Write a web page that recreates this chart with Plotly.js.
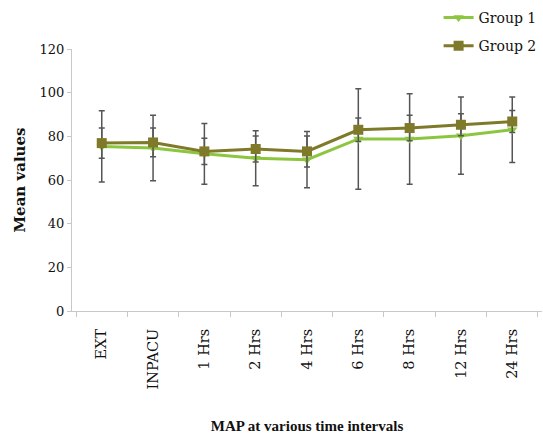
<!DOCTYPE html>
<html>
<head>
<meta charset="utf-8">
<script src="https://cdn.plot.ly/plotly-3.0.1.min.js"></script>
<style>html,body{margin:0;padding:0;background:#fff;}#chart{width:543px;height:434px;}</style>
</head>
<body>
<div id="chart"></div>
<script>
const categories = ["EXT", "INPACU", "1 Hrs", "2 Hrs", "4 Hrs", "6 Hrs", "8 Hrs", "12 Hrs", "24 Hrs"];
const group1Mean = [75.4, 74.6, 72.0, 70.0, 69.3, 78.8, 78.8, 80.3, 83.0];
const group1SD   = [16.3, 15.0, 13.9, 12.6, 12.9, 23.0, 20.7, 17.7, 15.0];
const group2Mean = [76.9, 77.2, 73.1, 74.2, 73.1, 83.0, 83.8, 85.3, 86.8];
const group2SD   = [6.9, 6.6, 6.0, 6.0, 7.1, 5.4, 5.8, 5.0, 5.0];
const yTicks = [0, 20, 40, 60, 80, 100, 120];

const serif = "DejaVu Serif, Liberation Serif, serif";
const times = "Liberation Serif, serif";

const traces = [
  {
    x: categories, y: group1Mean, name: "Group 1", legendgroup: "g1", type: "scatter", mode: "lines+markers",
    line: {color: "#8cc63f", width: 3},
    marker: {symbol: "triangle-down", size: 9, color: "#8cc63f"},
    error_y: {type: "data", array: group1SD, visible: true, color: "#555555", thickness: 1.5, width: 3}
  },
  {
    x: categories, y: group2Mean, name: "Group 2", legendgroup: "g2", type: "scatter", mode: "lines+markers",
    line: {color: "#7f7a2a", width: 3},
    marker: {symbol: "square", size: 10, color: "#7f7a2a"},
    error_y: {type: "data", array: group2SD, visible: true, color: "#555555", thickness: 1.5, width: 3}
  }
];

const layout = {
  width: 543, height: 434,
  margin: {l: 72, r: 1, t: 49, b: 123},
  paper_bgcolor: "#fff", plot_bgcolor: "#fff",
  font: {family: serif, size: 13, color: "#111"},
  showlegend: true,
  legend: {x: 0.78, y: 1.18, xanchor: "left", yanchor: "top", font: {family: serif, size: 14, color: "#111"},
           tracegroupgap: 7, itemwidth: 30},
  xaxis: {
    type: "category", tickangle: -90, showgrid: false, zeroline: false,
    showline: true, linecolor: "#c8c8c8", linewidth: 1,
    ticks: "outside", tickson: "boundaries", ticklen: 5, tickcolor: "#c8c8c8",
    ticklabelstandoff: 11,
    tickfont: {family: serif, size: 14.5},
    title: {text: "<b>MAP at various time intervals</b>", font: {family: times, size: 15}, standoff: 32}
  },
  yaxis: {
    range: [0, 120], tickvals: yTicks, showgrid: false, zeroline: false,
    showline: true, linecolor: "#c8c8c8", linewidth: 1,
    ticks: "outside", ticklen: 4, tickcolor: "#c8c8c8",
    tickfont: {family: serif, size: 13},
    title: {text: "<b>Mean values</b>", font: {family: serif, size: 15}, standoff: 10}
  }
};

Plotly.newPlot("chart", traces, layout, {displayModeBar: false, staticPlot: true});
</script>
</body>
</html>
